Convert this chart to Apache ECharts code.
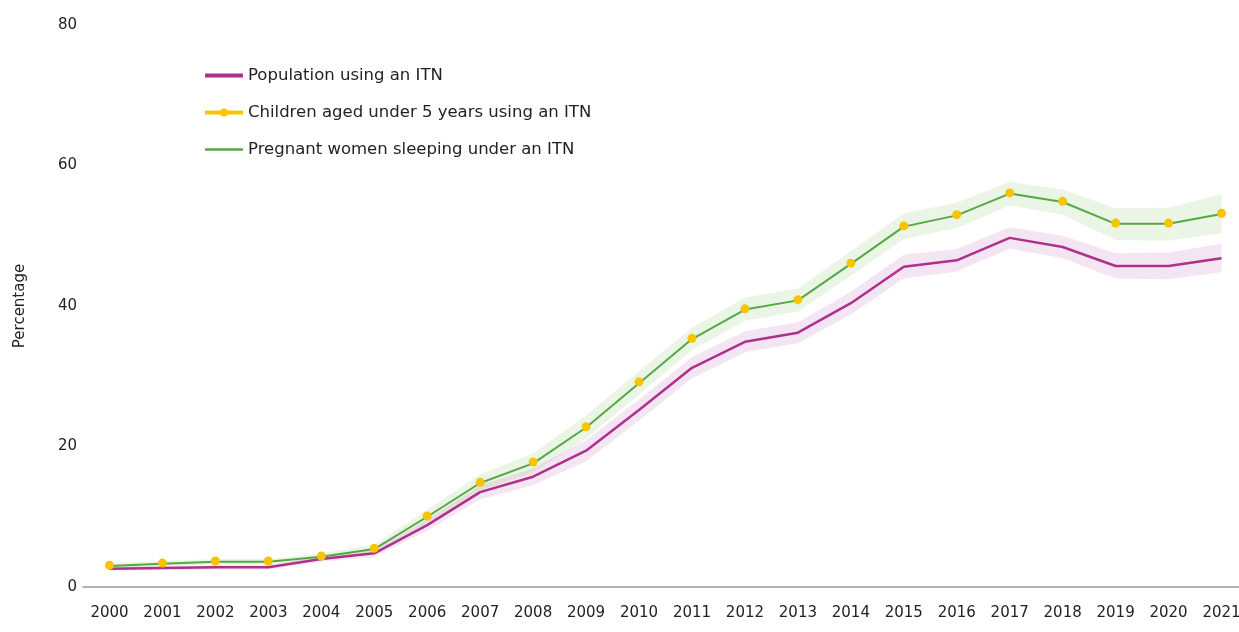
<!DOCTYPE html>
<html>
<head>
<meta charset="utf-8">
<script src="https://cdn.jsdelivr.net/npm/echarts@6/dist/echarts.min.js"></script>
<style>
  html, body { margin: 0; padding: 0; background: #fff; }
  #chart { width: 1239px; height: 632px; }
</style>
</head>
<body>
<div id="chart"></div>
<script>
const years = ["2000","2001","2002","2003","2004","2005","2006","2007","2008","2009","2010",
  "2011","2012","2013","2014","2015","2016","2017","2018","2019","2020","2021"]

// Population using an ITN
const popValues = [2.6, 2.7, 2.8, 2.8, 4.0, 4.8, 8.8, 13.5, 15.7, 19.4, 25.2,
  31.2, 34.9, 36.2, 40.4, 45.6, 46.5, 49.7, 48.4, 45.7, 45.7, 46.8]
const popLow = [2.3, 2.4, 2.5, 2.5, 3.6, 4.3, 8.0, 12.5, 14.5, 17.9, 23.7,
  29.7, 33.4, 34.7, 38.8, 43.9, 44.9, 48.2, 46.8, 43.9, 43.8, 44.8]
const popHigh = [2.9, 3.0, 3.1, 3.1, 4.4, 5.3, 9.6, 14.5, 16.9, 20.9, 26.7,
  32.7, 36.4, 37.7, 42.0, 47.3, 48.1, 51.2, 50.0, 47.5, 47.6, 48.9]

// Children aged under 5 years using an ITN
const childValues = [3.1, 3.4, 3.7, 3.7, 4.4, 5.5, 10.1, 14.9, 17.8, 22.8, 29.2,
  35.4, 39.6, 40.9, 46.1, 51.4, 53.0, 56.1, 54.9, 51.8, 51.8, 53.2]

// Pregnant women sleeping under an ITN
const pwValues = [3.0, 3.3, 3.6, 3.6, 4.3, 5.4, 10.0, 14.8, 17.6, 22.7, 29.0,
  35.3, 39.5, 40.8, 46.0, 51.3, 52.9, 56.0, 54.8, 51.7, 51.7, 53.1]
const pwLow = [2.7, 3.0, 3.2, 3.2, 3.9, 4.9, 9.1, 13.7, 16.3, 21.1, 27.4,
  33.7, 37.9, 39.2, 44.3, 49.5, 51.1, 54.3, 53.0, 49.4, 49.3, 50.4]
const pwHigh = [3.4, 3.7, 4.0, 4.0, 4.8, 6.0, 11.0, 16.0, 19.0, 24.4, 30.7,
  36.9, 41.2, 42.5, 47.8, 53.2, 54.7, 57.7, 56.6, 53.9, 54.0, 55.9]

const diff = (hi, lo) => hi.map((v, i) => +(v - lo[i]).toFixed(2))

const font = "DejaVu Sans"
const pink = "#b0308e"
const yellow = "#f7c400"
const green = "#55a844"

const chart = echarts.init(document.getElementById("chart"))
chart.setOption({
  animation: false,
  textStyle: { fontFamily: font },
  grid: { left: 83, width: 1165, top: 25, bottom: 45, outerBoundsMode: "none" },
  legend: {
    data: [
      { name: "Population using an ITN", itemStyle: { opacity: 0 }, lineStyle: { width: 4 } },
      { name: "Children aged under 5 years using an ITN", lineStyle: { width: 4, opacity: 1 } },
      { name: "Pregnant women sleeping under an ITN", itemStyle: { opacity: 0 }, lineStyle: { width: 2.5 } }
    ],
    orient: "vertical",
    left: 198,
    top: 62,
    itemGap: 20,
    itemWidth: 38,
    itemHeight: 10,
    textStyle: { fontSize: 16.5, color: "#222", fontFamily: font }
  },
  xAxis: {
    type: "category",
    data: years,
    boundaryGap: true,
    axisLine: { lineStyle: { color: "#999", width: 1.5 } },
    axisTick: { show: false },
    axisLabel: { color: "#222", fontSize: 15, margin: 19, interval: 0 }
  },
  yAxis: {
    type: "value",
    min: 0,
    max: 80,
    interval: 20,
    name: "Percentage",
    nameLocation: "middle",
    nameGap: 55,
    nameTextStyle: { color: "#222", fontSize: 15 },
    axisLine: { show: false },
    axisTick: { show: false },
    splitLine: { show: false },
    axisLabel: { color: "#222", fontSize: 15, margin: 6 }
  },
  series: [
    {
      name: "popBandBase",
      type: "line",
      stack: "popBand",
      data: popLow,
      symbol: "none",
      lineStyle: { opacity: 0 },
      silent: true
    },
    {
      name: "popBand",
      type: "line",
      stack: "popBand",
      data: diff(popHigh, popLow),
      symbol: "none",
      lineStyle: { opacity: 0 },
      areaStyle: { color: "rgba(190, 110, 185, 0.25)" },
      silent: true
    },
    {
      name: "pwBandBase",
      type: "line",
      stack: "pwBand",
      data: pwLow,
      symbol: "none",
      lineStyle: { opacity: 0 },
      silent: true
    },
    {
      name: "pwBand",
      type: "line",
      stack: "pwBand",
      data: diff(pwHigh, pwLow),
      symbol: "none",
      lineStyle: { opacity: 0 },
      areaStyle: { color: "rgba(140, 200, 110, 0.25)" },
      silent: true
    },
    {
      name: "Population using an ITN",
      type: "line",
      data: popValues,
      symbol: "none",
      color: pink,
      lineStyle: { color: pink, width: 2.5 }
    },
    {
      name: "Pregnant women sleeping under an ITN",
      type: "line",
      data: pwValues,
      symbol: "none",
      color: green,
      lineStyle: { color: green, width: 2 },
      z: 4
    },
    {
      // the green line hides this one in the reference; only its dots show
      name: "Children aged under 5 years using an ITN",
      type: "line",
      data: childValues,
      symbol: "circle",
      symbolSize: 9,
      color: yellow,
      itemStyle: { color: yellow },
      lineStyle: { color: yellow, width: 2, opacity: 0 },
      z: 5
    }
  ]
})
</script>
</body>
</html>
